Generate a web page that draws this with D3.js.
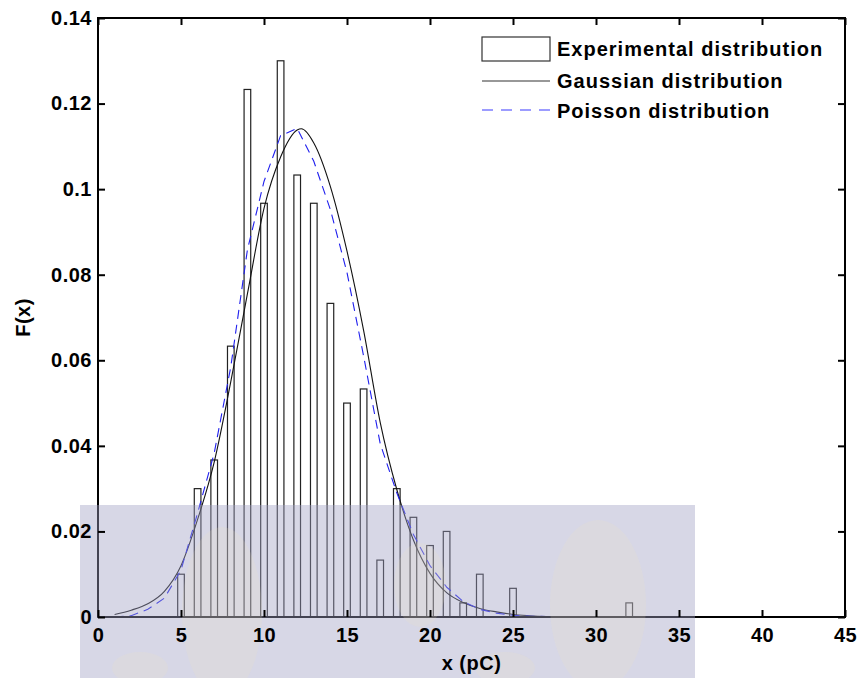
<!DOCTYPE html>
<html>
<head>
<meta charset="utf-8">
<script src="https://cdn.jsdelivr.net/npm/d3@7"></script>
<style>
  html, body { margin: 0; padding: 0; background: #fff; }
  svg { display: block; }
  text { font-family: "Liberation Sans", Arial, sans-serif; font-weight: bold; fill: #000; }
</style>
</head>
<body>
<svg id="chart" width="858" height="678"></svg>
<script>
// ---- data ----
const barX = [5, 6, 7, 8, 9, 10, 11, 12, 13, 14, 15, 16, 17, 18, 19, 20, 21, 22, 23, 25, 32];
const barY = [0.0100, 0.0300, 0.0367, 0.0633, 0.1233, 0.0967, 0.1300, 0.1033, 0.0967, 0.0733,
              0.0500, 0.0533, 0.0133, 0.0300, 0.0233, 0.0167, 0.0200, 0.0033, 0.0100, 0.0067, 0.0033];

const gaussX = [1, 2, 3, 4, 5, 6, 7, 8, 9, 10, 11, 12, 12.25, 13, 14, 15, 16, 17, 18, 19, 20,
                21, 22, 23, 24, 25, 26, 27, 28, 30, 35, 40];
const gaussY = [0.0006, 0.0016, 0.0031, 0.0060, 0.0120, 0.0228, 0.0362, 0.0550, 0.0755, 0.0955,
                0.1075, 0.1138, 0.1141, 0.1108, 0.1006, 0.0855, 0.0670, 0.0455, 0.0298, 0.0180,
                0.0102, 0.0057, 0.0034, 0.0020, 0.0012, 0.0006, 0.0003, 0.0001, 0, 0, 0, 0];

const poisX = [1, 2, 3, 4, 5, 6, 7, 8, 9, 10, 11, 12, 13, 14, 15, 16, 17, 18, 19, 20,
               21, 22, 23, 24, 25, 26, 27, 28, 29, 30, 31, 32, 33, 34, 35, 36, 37, 38, 39, 40];
const poisY = [0, 0.0003, 0.0018, 0.0044, 0.0110, 0.0243, 0.0383, 0.0585, 0.0858, 0.1018,
               0.1125, 0.1142, 0.1065, 0.0952, 0.0805, 0.0610, 0.0405, 0.0290, 0.0193, 0.0120,
               0.0070, 0.0036, 0.0018, 0.0009, 0.0004, 0.0002, 0.0001, 0, 0, 0,
               0, 0, 0, 0, 0, 0, 0, 0, 0, 0];

const xTicks = [0, 5, 10, 15, 20, 25, 30, 35, 40, 45];
const yTicks = [0, 0.02, 0.04, 0.06, 0.08, 0.1, 0.12, 0.14];
const yTickLabels = ["0", "0.02", "0.04", "0.06", "0.08", "0.1", "0.12", "0.14"];

const legendLabels = ["Experimental distribution", "Gaussian distribution", "Poisson distribution"];
const xLabel = "x (pC)";
const yLabel = "F(x)";

// ---- layout ----
const svg = d3.select("#chart");
const L = 98, R = 845, T = 18, B = 617;
const x = d3.scaleLinear().domain([0, 45]).range([L, R]);
const y = d3.scaleLinear().domain([0, 0.14]).range([B, T]);
const barW = x(0.4) - x(0);

// bars
svg.append("g").selectAll("rect").data(barX).join("rect")
  .attr("x", (d) => x(d) - barW / 2)
  .attr("y", (d, i) => y(barY[i]))
  .attr("width", barW)
  .attr("height", (d, i) => y(0) - y(barY[i]))
  .attr("fill", "#fff")
  .attr("stroke", "#222")
  .attr("stroke-width", 1.2);

// curves
const gLine = d3.line().x((d) => x(d[0])).y((d) => y(d[1])).curve(d3.curveMonotoneX);
svg.append("path")
  .datum(gaussX.map((v, i) => [v, gaussY[i]]))
  .attr("d", gLine)
  .attr("fill", "none")
  .attr("stroke", "#111")
  .attr("stroke-width", 1.1);

const pLine = d3.line().x((d) => x(d[0])).y((d) => y(d[1]));
svg.append("path")
  .datum(poisX.map((v, i) => [v, poisY[i]]))
  .attr("d", pLine)
  .attr("fill", "none")
  .attr("stroke", "#1f1fee")
  .attr("stroke-width", 1.1)
  .attr("stroke-dasharray", "9,6");

// axes
const axB = svg.append("g").attr("transform", `translate(0,${B})`)
  .call(d3.axisBottom(x).tickValues(xTicks).tickSizeInner(-7).tickSizeOuter(0).tickPadding(11)
    .tickFormat(d3.format("d")));
const axT = svg.append("g").attr("transform", `translate(0,${T})`)
  .call(d3.axisTop(x).tickValues(xTicks).tickSizeInner(-7).tickSizeOuter(0).tickFormat(""));
const axL = svg.append("g").attr("transform", `translate(${L},0)`)
  .call(d3.axisLeft(y).tickValues(yTicks).tickSizeInner(-7).tickSizeOuter(0).tickPadding(6)
    .tickFormat((d, i) => yTickLabels[i]));
const axR = svg.append("g").attr("transform", `translate(${R},0)`)
  .call(d3.axisRight(y).tickValues(yTicks).tickSizeInner(-7).tickSizeOuter(0).tickFormat(""));

[axB, axT, axL, axR].forEach((g) => {
  g.select(".domain").remove();
  g.selectAll(".tick line").attr("stroke", "#000").attr("stroke-width", 2);
  g.selectAll(".tick text").attr("font-size", 20).attr("font-family", "Liberation Sans, Arial, sans-serif")
    .attr("font-weight", "bold").attr("fill", "#000").style("letter-spacing", "0.5px");
});

svg.append("rect")
  .attr("x", L).attr("y", T).attr("width", R - L).attr("height", B - T)
  .attr("fill", "none").attr("stroke", "#000").attr("stroke-width", 2);

// legend
const lg = svg.append("g");
lg.append("rect").attr("x", 482).attr("y", 37).attr("width", 68).attr("height", 24)
  .attr("fill", "#fff").attr("stroke", "#333").attr("stroke-width", 1.2);
lg.append("line").attr("x1", 482).attr("x2", 550).attr("y1", 81).attr("y2", 81)
  .attr("stroke", "#333").attr("stroke-width", 1.1);
lg.append("line").attr("x1", 482).attr("x2", 550).attr("y1", 110).attr("y2", 110)
  .attr("stroke", "#3b3bff").attr("stroke-width", 1.1).attr("stroke-dasharray", "11,8");
const lgBase = [56, 88, 118];
lg.selectAll("text.lg").data(legendLabels).join("text")
  .attr("class", "lg")
  .attr("x", 557).attr("y", (d, i) => lgBase[i])
  .attr("font-size", 20)
  .style("letter-spacing", "1px")
  .text((d) => d);

// faint watermark overlay (background logo of the source image)
const wm = svg.append("g").attr("pointer-events", "none");
wm.append("rect").attr("x", 80).attr("y", 505).attr("width", 615).attr("height", 173)
  .attr("fill", "#a0a0c4").attr("opacity", 0.42);
const leaves = [[222, 612, 40, 85], [598, 605, 48, 85], [420, 585, 26, 42], [140, 668, 28, 16], [505, 668, 30, 16]];
wm.selectAll("ellipse").data(leaves).join("ellipse")
  .attr("cx", (d) => d[0]).attr("cy", (d) => d[1]).attr("rx", (d) => d[2]).attr("ry", (d) => d[3])
  .attr("fill", "#f2e6b8").attr("opacity", 0.16);

// keep tick labels above the watermark
axB.selectAll(".tick text").raise();
axB.raise();
axL.raise();

// axis titles
svg.append("text")
  .attr("x", (L + R) / 2).attr("y", 670)
  .attr("text-anchor", "middle").attr("font-size", 20)
  .style("letter-spacing", "0.5px")
  .text(xLabel);
svg.append("text")
  .attr("transform", `translate(30,${(T + B) / 2}) rotate(-90)`)
  .attr("text-anchor", "middle").attr("font-size", 20)
  .style("letter-spacing", "0.5px")
  .text(yLabel);
</script>
</body>
</html>
